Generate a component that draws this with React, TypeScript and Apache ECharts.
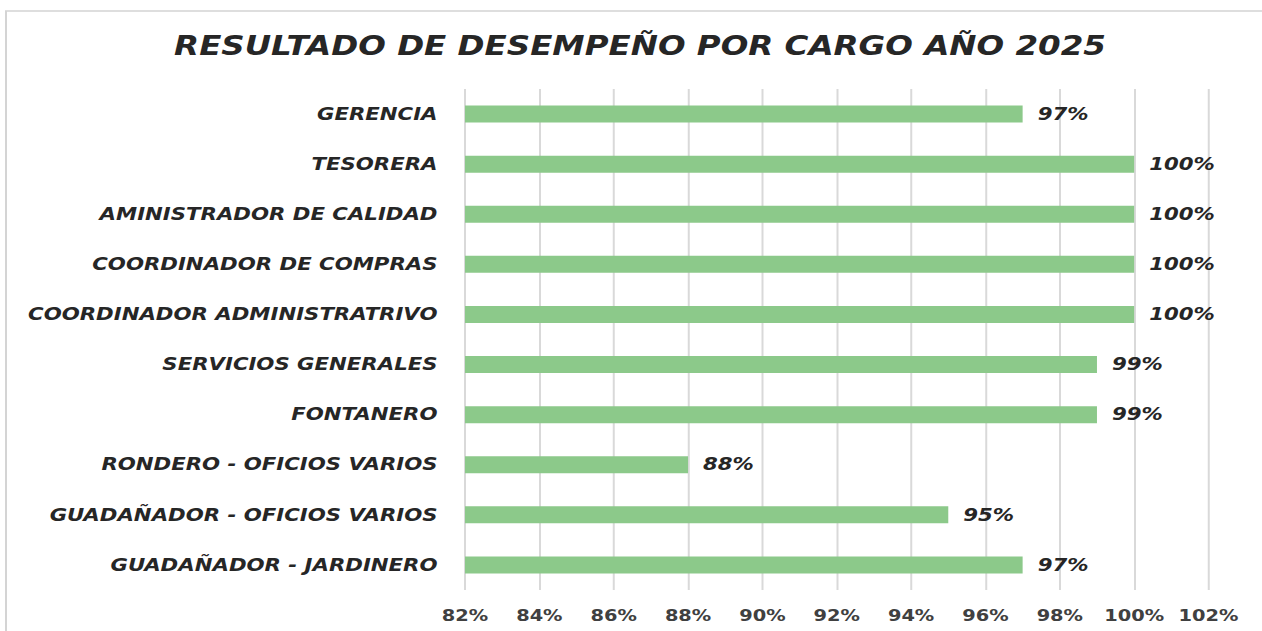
import React, { useEffect, useRef } from "react";
import * as echarts from "echarts";

const TITLE = "RESULTADO DE DESEMPEÑO POR CARGO AÑO 2025";
const categories = [
  "GERENCIA",
  "TESORERA",
  "AMINISTRADOR DE CALIDAD",
  "COORDINADOR DE COMPRAS",
  "COORDINADOR ADMINISTRATRIVO",
  "SERVICIOS GENERALES",
  "FONTANERO",
  "RONDERO - OFICIOS VARIOS",
  "GUADAÑADOR - OFICIOS VARIOS",
  "GUADAÑADOR - JARDINERO",
];
const values = [97, 100, 100, 100, 100, 99, 99, 88, 95, 97];
const axisMin = 82;
const axisMax = 102;
const axisStep = 2;

const SCALE_X = 1.25;
const PAGE_W = 1262;
const PAGE_H = 631;
const FONT = "'DejaVu Sans', 'Open Sans', sans-serif";

export default function App() {
  const ref = useRef<HTMLDivElement>(null);

  useEffect(() => {
    if (!ref.current) return;
    const chart = echarts.init(ref.current, null, { renderer: "svg" });
    chart.setOption({
      animation: false,
      backgroundColor: "#ffffff",
      title: {
        text: TITLE,
        left: 512,
        top: 33,
        padding: 0,
        textAlign: "center",
        textStyle: {
          fontFamily: FONT,
          fontWeight: "bold",
          fontStyle: "italic",
          fontSize: 26,
          color: "#262626",
        },
      },
      graphic: [
        {
          type: "rect",
          silent: true,
          z: -1,
          shape: { x: 4.8, y: 11, width: 1300, height: 800 },
          style: { fill: "none", stroke: "#d4d4d4", lineWidth: 1.6 },
        },
      ],
      grid: { left: 372, right: 43.2, top: 89, bottom: 41, containLabel: false },
      xAxis: {
        type: "value",
        min: axisMin,
        max: axisMax,
        interval: axisStep,
        axisLine: { show: false },
        axisTick: { show: false },
        splitLine: { show: true, lineStyle: { color: "#d9d9d9", width: 1.6 } },
        axisLabel: {
          formatter: "{value}%",
          margin: 18,
          fontFamily: FONT,
          fontWeight: "bold",
          fontSize: 15.5,
          color: "#404040",
        },
      },
      yAxis: {
        type: "category",
        inverse: true,
        data: categories,
        axisLine: { show: false },
        axisTick: { show: false },
        splitLine: { show: false },
        axisLabel: {
          margin: 22,
          fontFamily: FONT,
          fontWeight: "bold",
          fontStyle: "italic",
          fontSize: 17,
          color: "#262626",
        },
      },
      series: [
        {
          type: "bar",
          data: values,
          barWidth: 17,
          itemStyle: { color: "#8cc98a" },
          label: {
            show: true,
            position: "right",
            distance: 12,
            formatter: "{c}%",
            fontFamily: FONT,
            fontWeight: "bold",
            fontStyle: "italic",
            fontSize: 17,
            color: "#262626",
          },
        },
      ],
    });
    return () => chart.dispose();
  }, []);

  return (
    <div
      style={{
        position: "fixed",
        left: 0,
        top: 0,
        width: PAGE_W,
        height: PAGE_H,
        overflow: "hidden",
        background: "#ffffff",
      }}
    >
      <div
        ref={ref}
        style={{
          width: PAGE_W / SCALE_X,
          height: PAGE_H,
          transform: `scaleX(${SCALE_X})`,
          transformOrigin: "0 0",
        }}
      />
    </div>
  );
}
